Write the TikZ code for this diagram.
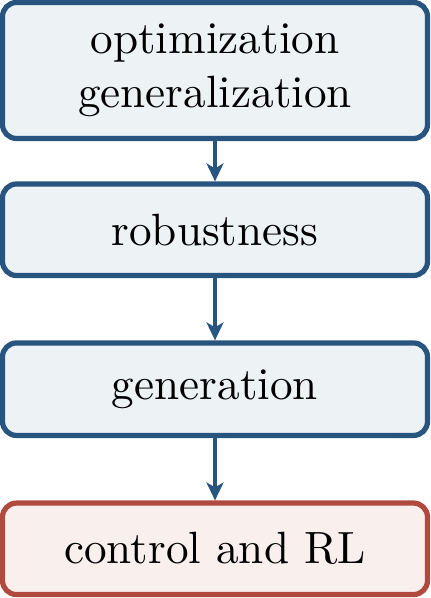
\documentclass[tikz,border=0pt]{standalone}
\usepackage{fontspec}
\newfontfamily\tenrm{lmroman10-regular.otf}
\usetikzlibrary{arrows.meta}
\definecolor{bluedge}{RGB}{40,84,128}
\definecolor{bluefill}{RGB}{237,242,245}
\definecolor{rededge}{RGB}{176,74,62}
\definecolor{redfill}{RGB}{249,240,238}
\tikzset{
  box/.style={draw=bluedge, fill=bluefill, line width=2.6pt, rounded corners=7pt,
    minimum width=212.5pt, inner sep=0pt, align=center,
    font=\tenrm\fontsize{22.6}{27}\selectfont},
  redbox/.style={box, draw=rededge, fill=redfill},
  conn/.style={draw=bluedge, line width=1.6pt,
    -{Stealth[length=9pt, width=8.5pt, inset=2.5pt]}}
}
\begin{document}
\begin{tikzpicture}[x=1pt,y=1pt]
\useasboundingbox (0,0) rectangle (215,-299);
\node[box, minimum height=68pt] (a) at (107.5,-35.25) {optimization\\generalization};
\node[box, minimum height=45.75pt] (b) at (107.5,-114.875) {robustness};
\node[box, minimum height=46.25pt] (c) at (107.5,-194.6) {generation};
\node[redbox, minimum height=45.75pt] (d) at (107.5,-274.4) {control and RL};
\draw[conn] (a.south) -- (b.north);
\draw[conn] (b.south) -- (c.north);
\draw[conn] (c.south) -- (d.north);
\end{tikzpicture}
\end{document}
